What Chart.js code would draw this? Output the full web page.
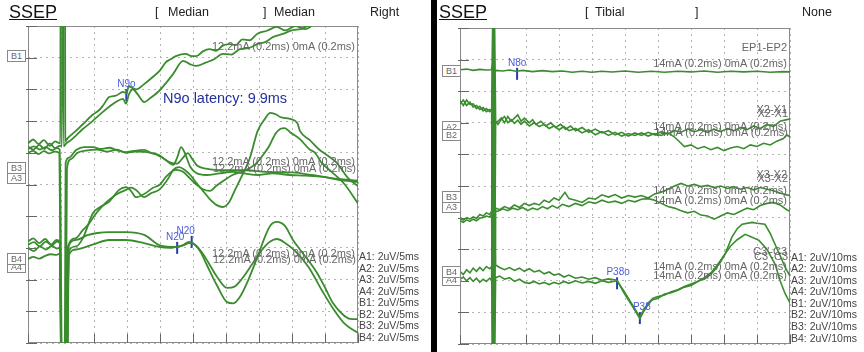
<!DOCTYPE html>
<html>
<head>
<meta charset="utf-8">
<script src="https://cdn.jsdelivr.net/npm/chart.js"></script>
<style>
body { margin: 0; background: #fff; width: 864px; height: 352px; position: relative; overflow: hidden; font-family: "Liberation Sans", Arial, sans-serif; }
.panel { position: absolute; top: 0; width: 432px; height: 352px; }
.panel canvas { position: absolute; left: 0; top: 0; }
.t { position: absolute; white-space: nowrap; line-height: 1; color: #222; }
.hd { font-size: 12.5px; top: 6px; }
.ssep { font-size: 18px; top: 3px; text-decoration: underline; color: #111; }
.st { font-size: 11px; color: #666; }
.sc { font-size: 10.5px; color: #444; }
.box { position: absolute; width: 17px; height: 10px; border: 1px solid #888; background: #fff; color: #666; font-size: 9px; line-height: 10px; text-align: center; }
.sep { position: absolute; left: 431px; top: 0; width: 6px; height: 352px; background: #000; }
</style>
</head>
<body>
<div class="panel" style="left:0">
  <canvas id="leftChart" width="432" height="352"></canvas>
  <div class="t ssep" style="left:9px">SSEP</div>
  <div class="t hd" style="left:155px">[</div>
  <div class="t hd" style="left:168px">Median</div>
  <div class="t hd" style="left:263px">]</div>
  <div class="t hd" style="left:274px">Median</div>
  <div class="t hd" style="left:370px">Right</div>
  <div class="box" style="left:7px;top:50px">B1</div>
  <div class="box" style="left:7px;top:172px">A3</div>
  <div class="box" style="left:7px;top:162px">B3</div>
  <div class="box" style="left:7px;top:261px">A4</div>
  <div class="box" style="left:7px;top:253px">B4</div>
  <div class="t st" style="right:77px;top:41px">12.2mA (0.2ms) 0mA (0.2ms)</div>
  <div class="t st" style="right:77px;top:156px">12.2mA (0.2ms) 0mA (0.2ms)</div>
  <div class="t st" style="right:76px;top:163px">12.2mA (0.2ms) 0mA (0.2ms)</div>
  <div class="t st" style="right:77px;top:248px">12.2mA (0.2ms) 0mA (0.2ms)</div>
  <div class="t st" style="right:76px;top:254px">12.2mA (0.2ms) 0mA (0.2ms)</div>
  <div class="t" style="left:163px;top:91px;font-size:14.5px;color:#22309a">N9o latency: 9.9ms</div>
  <div class="t sc" style="left:359px;top:251px">A1: 2uV/5ms</div>
  <div class="t sc" style="left:359px;top:263px">A2: 2uV/5ms</div>
  <div class="t sc" style="left:359px;top:274px">A3: 2uV/5ms</div>
  <div class="t sc" style="left:359px;top:286px">A4: 2uV/5ms</div>
  <div class="t sc" style="left:359px;top:297px">B1: 2uV/5ms</div>
  <div class="t sc" style="left:359px;top:309px">B2: 2uV/5ms</div>
  <div class="t sc" style="left:359px;top:320px">B3: 2uV/5ms</div>
  <div class="t sc" style="left:359px;top:332px">B4: 2uV/5ms</div>
</div>
<div class="panel" style="left:432px">
  <canvas id="rightChart" width="432" height="352"></canvas>
  <div class="t ssep" style="left:7px">SSEP</div>
  <div class="t hd" style="left:153px">[</div>
  <div class="t hd" style="left:163px">Tibial</div>
  <div class="t hd" style="left:263px">]</div>
  <div class="t hd" style="left:370px">None</div>
  <div class="box" style="left:10px;top:65px">B1</div>
  <div class="box" style="left:10px;top:121px">A2</div>
  <div class="box" style="left:10px;top:129px">B2</div>
  <div class="box" style="left:10px;top:201px">A3</div>
  <div class="box" style="left:10px;top:191px">B3</div>
  <div class="box" style="left:10px;top:274px">A4</div>
  <div class="box" style="left:10px;top:266px">B4</div>
  <div class="t st" style="right:77px;top:42px">EP1-EP2</div>
  <div class="t st" style="right:77px;top:58px">14mA (0.2ms) 0mA (0.2ms)</div>
  <div class="t st" style="right:77px;top:104px">X2-X1</div>
  <div class="t st" style="right:76px;top:108px">X2-X1</div>
  <div class="t st" style="right:77px;top:121px">14mA (0.2ms) 0mA (0.2ms)</div>
  <div class="t st" style="right:76px;top:127px">14mA (0.2ms) 0mA (0.2ms)</div>
  <div class="t st" style="right:77px;top:169px">X3-X2</div>
  <div class="t st" style="right:76px;top:173px">X3-X2</div>
  <div class="t st" style="right:77px;top:185px">14mA (0.2ms) 0mA (0.2ms)</div>
  <div class="t st" style="right:77px;top:195px">14mA (0.2ms) 0mA (0.2ms)</div>
  <div class="t st" style="right:77px;top:246px">C3'-C3</div>
  <div class="t st" style="right:76px;top:251px">C3'-C3</div>
  <div class="t st" style="right:77px;top:261px">14mA (0.2ms) 0mA (0.2ms)</div>
  <div class="t st" style="right:77px;top:270px">14mA (0.2ms) 0mA (0.2ms)</div>
  <div class="t sc" style="left:359px;top:252px">A1: 2uV/10ms</div>
  <div class="t sc" style="left:359px;top:263px">A2: 2uV/10ms</div>
  <div class="t sc" style="left:359px;top:275px">A3: 2uV/10ms</div>
  <div class="t sc" style="left:359px;top:286px">A4: 2uV/10ms</div>
  <div class="t sc" style="left:359px;top:298px">B1: 2uV/10ms</div>
  <div class="t sc" style="left:359px;top:309px">B2: 2uV/10ms</div>
  <div class="t sc" style="left:359px;top:321px">B3: 2uV/10ms</div>
  <div class="t sc" style="left:359px;top:333px">B4: 2uV/10ms</div>
</div>
<div class="sep"></div>

<script>
// median nerve, 5 ms/div, amplitude in grid divisions (2 uV/div)
const leftB1a = [[-5,6.3],[-4.2,6.42],[-3.4,6.28],[-2.6,6.4],[-1.7,6.22],[-0.9,6.36],[-0.2,6.3],[-0.1,6.3],[-0.05,14],[0.6,14],[0.65,6.35],[0.8,6.4],[1.2,6.5],[2.3,6.7],[3.3,6.9],[4.8,7.2],[5.8,7.35],[6.4,7.5],[7.3,7.76],[8.3,7.8],[9.4,7.92],[9.9,7.88],[10.3,8.1],[10.8,8.05],[11.4,8.0],[12.5,8.15],[13.9,8.39],[15,8.6],[15.9,8.86],[16.6,8.95],[17.4,9.05],[18.9,9.12],[19.8,9.05],[20.5,9.05],[21.5,9.2],[22.5,9.27],[23.5,9.22],[24.5,9.38],[25.5,9.43],[26.5,9.4],[27.5,9.58],[28.6,9.55],[29.7,9.75],[31.2,9.85],[32.7,9.97],[34,9.86],[35.5,10.0],[37,9.9],[38.5,10.1],[40,10.4],[42.5,10.7],[45,10.9]];
const leftB1b = [[-5,6.2],[-4.2,6.1],[-3.3,6.25],[-2.5,6.12],[-1.7,6.3],[-0.9,6.15],[-0.2,6.22],[0.15,6.22],[0.2,14],[0.35,14],[0.4,6.2],[0.8,6.3],[1.5,6.4],[2.3,6.55],[3.3,6.75],[4.5,6.95],[5.3,7.1],[6.4,7.3],[7.3,7.45],[8.3,7.6],[9.4,7.7],[9.85,7.55],[10.3,7.85],[10.9,8.0],[11.6,7.85],[12.6,7.6],[13.5,7.72],[14.85,7.95],[15.9,8.2],[17,8.49],[18.5,8.9],[19.5,8.8],[20.5,8.74],[22,8.85],[23.2,8.95],[24.5,9.12],[25.8,9.1],[27.1,9.27],[28.4,9.3],[29.7,9.43],[31,9.5],[32.1,9.65],[33.6,9.75],[35.1,9.87],[36.3,9.9],[37.3,10.0],[39,10.2],[42,10.5],[45,10.7]];
const leftB3a = [[-5,6.0],[-4.2,6.06],[-3.4,5.96],[-2.6,6.05],[-1.8,5.98],[-1,6.04],[-0.3,6.0],[0.2,-4],[0.5,-4],[0.7,5.68],[1.2,5.85],[2.3,6.09],[3.5,6.18],[4.85,6.18],[6,6.12],[7.3,6.16],[8.5,6.08],[9.85,6.02],[11,6.06],[12.6,6.09],[13.6,6.0],[14.85,5.93],[16,5.75],[17,5.62],[17.6,5.85],[18.2,6.18],[18.9,5.92],[19.6,5.55],[20.5,5.36],[22,5.3],[24,5.35],[26,5.4],[28,5.34],[30,5.3],[32,5.35],[34.7,5.3],[37,5.28],[39.7,5.24],[42,5.15],[45,5.08]];
const leftB3b = [[-5,6.12],[-4.1,6.2],[-3.2,6.1],[-2.3,6.18],[-1.4,6.08],[-0.6,6.15],[-0.2,6.1],[0.3,-4],[0.6,-4],[0.9,5.5],[1.5,5.8],[2.5,6.0],[4,6.08],[5.5,6.1],[7,6.04],[8.5,6.1],[9.85,6.0],[11.3,6.04],[12.6,6.03],[14,5.98],[15.3,5.85],[16.5,5.7],[17.6,5.66],[18.5,5.85],[19.2,5.99],[19.9,5.8],[20.6,5.6],[22,5.5],[25,5.45],[28,5.45],[31,5.4],[35,5.38],[38,5.3],[41,5.2],[45,5.12]];
const leftA3a = [[-5,3.2],[-4.2,3.3],[-3.3,3.15],[-2.4,3.28],[-1.5,3.1],[-0.7,3.25],[-0.2,3.2],[0.2,-4],[0.6,-4],[1.0,3.0],[2.2,3.3],[3.3,3.56],[4.2,3.75],[5,4.0],[6.2,4.3],[7.27,4.51],[8.5,4.7],[9.85,4.83],[10.6,4.9],[11.36,4.83],[12.6,4.6],[13.6,4.72],[14.85,4.83],[15.6,5.0],[16.4,5.24],[17,5.46],[17.9,5.55],[18.8,5.45],[19.6,5.3],[20.5,5.05],[21.5,4.8],[22.5,4.55],[23.6,4.35],[24.5,4.29],[25.5,4.45],[26.3,4.8],[27.1,5.14],[28.6,5.83],[29.8,6.69],[30.9,7.07],[31.7,7.26],[32.7,7.2],[33.2,7.13],[34.7,7.07],[35.8,6.94],[36.2,6.69],[37.7,6.4],[39.2,6.09],[40.5,5.9],[41.8,5.68],[43.5,5.2],[45,4.95]];
const leftA3b = [[-5,3.0],[-4.1,2.9],[-3.2,3.05],[-2.3,2.95],[-1.4,3.06],[-0.6,2.98],[-0.2,3.0],[0.3,-4],[0.7,-4],[1.2,2.9],[2.3,3.05],[3.3,3.3],[4.85,4.1],[6,4.3],[7.27,4.45],[8.8,4.83],[9.85,4.92],[10.6,4.8],[11.36,4.6],[12.6,4.7],[13.9,4.89],[15,5.0],[15.9,5.24],[17.4,5.46],[18.5,5.4],[19.5,5.2],[20.5,5.0],[21.5,4.85],[22.6,4.8],[23.5,4.95],[24.5,5.1],[26,5.3],[28,5.45],[29.5,5.65],[30.5,5.9],[31.5,6.2],[32.5,6.6],[33.2,6.75],[33.9,6.78],[34.7,6.65],[36.2,6.43],[37.7,6.1],[38.5,6.0],[39.5,5.68],[41,5.4],[43,5.0],[45,4.4]];
const leftB4a = [[-5,2.65],[-4.2,2.72],[-3.3,2.66],[-2.4,2.75],[-1.5,2.8],[-0.7,2.78],[-0.2,2.82],[0.2,-4],[0.8,-4],[1.2,2.78],[2.3,2.95],[3.3,3.0],[5,3.12],[7.27,3.25],[9.85,3.25],[12.6,3.15],[14.85,3.03],[16.5,3.0],[17.4,3.03],[18.5,3.08],[19.4,3.15],[20.3,3.1],[21.2,2.85],[22.1,2.46],[23.6,1.83],[25.15,1.29],[26.1,1.25],[27.1,1.45],[28.4,2.0],[29.7,2.68],[30.9,3.35],[31.7,3.7],[32.7,3.82],[33.9,3.7],[35.15,3.25],[36.2,2.95],[37.5,2.6],[38.8,2.21],[40,1.75],[41.2,1.26],[42.7,0.9],[43.8,0.76],[45,0.75]];
const leftB4b = [[-5,3.1],[-4.1,3.18],[-3.2,3.05],[-2.3,3.2],[-1.4,3.08],[-0.6,3.2],[-0.2,3.15],[0.3,-4],[0.7,-4],[1.2,3.09],[2.3,3.25],[4,3.4],[5.5,3.47],[7.27,3.5],[9.85,3.5],[12.6,3.41],[14.85,3.09],[16,3.04],[17.4,3.03],[18.5,3.09],[19.4,3.19],[20.3,3.1],[21.2,2.9],[22.3,2.55],[23.6,2.1],[25.15,1.74],[26.3,1.78],[27.5,2.05],[29,2.5],[30.5,2.95],[31.7,3.2],[32.7,3.28],[34,3.15],[35.5,2.9],[37.5,2.4],[39.7,1.6],[41.5,1.0],[43,0.6],[45,0.32]];
const leftMarks = [[9.9,7.82],[17.6,3.0],[19.8,3.19]];
const leftMarkNames = ['N9o', 'N20', 'N20'];

// tibial nerve, 10 ms/div
const rightB1 = [[-10,8.68],[-8,8.7],[-6,8.66],[-4,8.69],[-2,8.67],[-0.5,8.68],[0,8.9],[0.4,8.6],[1,8.66],[3,8.64],[5,8.67],[7,8.63],[9,8.66],[12,8.62],[15,8.65],[18,8.62],[21,8.64],[24,8.6],[27,8.63],[30,8.6],[33,8.63],[36,8.61],[40,8.64],[44,8.6],[48,8.63],[52,8.6],[56,8.63],[60,8.61],[64,8.64],[68,8.6],[72,8.63],[76,8.61],[80,8.63],[84,8.6],[88,8.62],[90,8.61]];
const rightB2 = [[-10,7.7],[-9,7.55],[-8,7.72],[-7,7.58],[-6,7.6],[-5,7.45],[-4,7.52],[-3,7.38],[-2,7.45],[-1,7.35],[-0.4,7.4],[0,11],[0.3,-2],[0.8,7.0],[1.5,7.05],[2.5,7.15],[3.5,7.0],[4.5,7.2],[5.5,7.05],[6.5,7.15],[7.5,7.25],[8.5,7.05],[9.5,7.15],[11,7.0],[12,7.1],[13,6.95],[14.5,7.05],[16,6.9],[17.5,7.0],[19,6.85],[20.5,6.95],[22,6.8],[23.5,6.9],[25,6.75],[27,6.85],[29,6.7],[31,6.8],[33,6.68],[35,6.75],[37,6.62],[39,6.7],[41,6.58],[43,6.68],[45,6.6],[47,6.7],[49,6.62],[51,6.72],[53,6.65],[55,6.75],[57,6.7],[59,6.8],[61,6.72],[63,6.78],[65,6.7],[67,6.8],[69,6.72],[71,6.82],[73,6.75],[75,6.85],[77,6.78],[79,6.9],[81,6.82],[83,6.95],[85,6.88],[87,7.05],[89,7.1],[90,7.12]];
const rightA2 = [[-10,7.6],[-9,7.72],[-8,7.55],[-7,7.65],[-6,7.5],[-5,7.55],[-4,7.42],[-3,7.48],[-2,7.35],[-1,7.42],[-0.4,7.38],[0.1,-2],[0.4,11],[0.8,7.05],[1.5,6.95],[2.5,7.1],[3.5,7.2],[4.5,7.0],[5.5,7.1],[6.5,6.98],[7.5,7.08],[8.5,6.95],[9.5,7.05],[11,6.9],[12.5,7.0],[14,6.88],[15.5,6.95],[17,6.82],[18.5,6.9],[20,6.78],[21.5,6.88],[23,6.75],[25,6.82],[27,6.68],[29,6.78],[31,6.62],[33,6.72],[35,6.6],[37,6.7],[39,6.58],[41,6.66],[43,6.6],[45,6.68],[47,6.58],[49,6.66],[51,6.6],[53,6.68],[55,6.55],[56.5,6.4],[58,6.25],[60,6.3],[62,6.18],[64,6.25],[66,6.15],[68,6.22],[70,6.12],[72,6.2],[74,6.25],[76,6.18],[78,6.3],[80,6.25],[82,6.35],[84,6.3],[86,6.42],[88,6.5],[89,6.62],[90,6.55]];
const rightB3 = [[-10,3.98],[-9,3.92],[-8,4.0],[-7,3.95],[-6,4.02],[-5,3.98],[-4,4.1],[-3,4.05],[-2,4.15],[-1,4.1],[-0.4,4.2],[0,11],[0.3,-1],[0.8,4.3],[2,4.25],[3.5,4.35],[5,4.28],[6.5,4.4],[8,4.32],[9.5,4.45],[11,4.38],[12.5,4.45],[14,4.4],[15.5,4.55],[17,4.48],[18.5,4.62],[20,4.55],[21.8,4.8],[23,4.6],[25,4.55],[27,4.48],[29,4.62],[31,4.58],[33,4.72],[35,4.65],[37,4.73],[39,4.62],[41,4.7],[43,4.65],[45,4.7],[47,4.62],[49,4.75],[51,4.8],[53,4.9],[55,5.0],[57,5.08],[59,5.0],[61,5.05],[63,4.98],[65,5.02],[67,4.95],[69,5.0],[71,4.92],[73,4.98],[75,4.9],[77,4.95],[79,4.88],[81,4.95],[83,4.9],[85,4.85],[87,4.78],[89,4.72],[90,4.7]];
const rightA3 = [[-10,3.9],[-9,3.85],[-8,3.93],[-7,3.88],[-6,3.95],[-5,3.9],[-4,3.98],[-3,4.0],[-2,4.05],[-1,4.02],[-0.4,4.1],[0,-3],[0.3,4.2],[1.5,4.2],[3,4.28],[4.5,4.22],[6,4.3],[7.5,4.25],[9,4.32],[10.5,4.22],[12,4.3],[13.5,4.25],[15,4.35],[16.5,4.28],[18,4.38],[19.5,4.3],[21,4.42],[23,4.35],[25,4.45],[27,4.38],[29,4.5],[31,4.45],[33,4.55],[35,4.48],[37,4.52],[39,4.45],[41,4.55],[43,4.5],[45,4.58],[47,4.6],[49,4.55],[51,4.45],[53,4.35],[55,4.3],[57,4.22],[59,4.15],[61,4.2],[63,4.08],[65,4.05],[67,3.95],[69,4.05],[71,4.15],[73,4.1],[75,4.2],[77,4.3],[79,4.25],[81,4.38],[83,4.45],[85,4.48],[87,4.4],[89,4.25],[90,4.2]];
const rightB4 = [[-10,2.3],[-9,2.2],[-8,2.35],[-7,2.25],[-6,2.4],[-5,2.3],[-4,2.42],[-3,2.32],[-2,2.45],[-1,2.38],[-0.4,2.45],[0,-3],[0.3,10],[0.8,2.5],[2,2.42],[3.5,2.35],[5,2.42],[6.5,2.33],[8,2.4],[9.5,2.3],[11,2.38],[12.5,2.28],[14,2.33],[15.5,2.22],[17,2.28],[18.5,2.18],[20,2.22],[21.5,2.12],[23,2.18],[25,2.08],[27,2.12],[29,2.05],[31,2.1],[33,2.02],[35,2.06],[37.6,2.02],[39.5,1.65],[41,1.4],[42.5,1.15],[44.5,0.8],[45.5,1.0],[47,1.25],[48.2,1.39],[50,1.45],[52,1.58],[54,1.62],[56,1.7],[58,1.8],[60,1.85],[62.4,2.0],[64,2.05],[66,2.2],[67.3,2.36],[69,2.6],[70.3,2.84],[72.4,3.38],[74,3.65],[75.5,3.79],[78.5,3.85],[80,3.82],[82.4,3.79],[84,3.5],[85.5,3.15],[87,2.8],[88.5,2.43],[90,2.15]];
const rightA4 = [[-10,2.05],[-9,2.12],[-8,2.0],[-7,2.1],[-6,1.98],[-5,2.08],[-4,1.95],[-3,2.05],[-2,1.98],[-1,2.08],[-0.4,2.02],[0,10],[0.3,-2],[0.8,2.1],[2,2.15],[3.5,2.05],[5,2.1],[6.5,1.98],[8,2.05],[9.5,1.95],[11,1.92],[12.5,1.98],[14,1.9],[15.5,1.95],[17,1.88],[18.5,1.95],[20,1.9],[21.5,1.98],[23,1.92],[25,2.0],[27,1.93],[29,1.98],[31,1.92],[33,2.0],[35,1.95],[37.6,2.0],[39.5,1.7],[41,1.45],[42.5,1.2],[44.5,0.85],[45.5,1.05],[47,1.3],[48.5,1.45],[50,1.5],[52,1.55],[54,1.65],[56,1.72],[58,1.82],[60,1.9],[62,1.98],[64,2.1],[66,2.25],[68,2.5],[70,2.8],[72,3.1],[74,3.3],[76.4,3.47],[78,3.4],[80.6,3.28],[83,3.0],[85.5,2.52],[87,2.0],[88.5,1.6],[90,1.3]];
const rightMarks = [[7.3,8.55],[37.6,1.92],[44.5,0.82]];
const rightMarkNames = ['N8o', 'P38o', 'P38'];

const leftMarkDx = [0, -2, -6];
const rightMarkDx = [0, 1, 2];

const waveColor = 'rgb(58,140,46)';

const frame = {
    id: 'frame',
    beforeDatasetsDraw(chart) {
        const {ctx, chartArea: a, scales: {x, y}} = chart;
        ctx.save();
        ctx.strokeStyle = '#8a8a8a';
        ctx.lineWidth = 1;
        ctx.strokeRect(a.left + 0.5, a.top + 0.5, a.width - 1, a.height - 1);
        ctx.strokeStyle = '#666';
        ctx.beginPath();
        y.ticks.forEach(t => {
            const py = Math.round(y.getPixelForValue(t.value)) + 0.5;
            ctx.moveTo(a.left - 2, py);
            ctx.lineTo(a.left + 9, py);
        });
        x.ticks.forEach(t => {
            const px = Math.round(x.getPixelForValue(t.value)) + 0.5;
            ctx.moveTo(px, a.bottom);
            ctx.lineTo(px, a.bottom - 9);
        });
        ctx.stroke();
        ctx.restore();
    }
};

const markLabels = {
    id: 'markLabels',
    afterDatasetsDraw(chart) {
        const ctx = chart.ctx;
        const last = chart.data.datasets.length - 1;
        const ds = chart.data.datasets[last];
        const meta = chart.getDatasetMeta(last);
        ctx.save();
        ctx.font = '10px "Liberation Sans", Arial, sans-serif';
        ctx.fillStyle = '#4b5cd8';
        ctx.textAlign = 'center';
        meta.data.forEach((pt, i) => {
            ctx.fillText(ds.names[i], pt.x + ds.dx[i], pt.y - 8);
        });
        ctx.restore();
    }
};

function drawPanel(id, traces, marks, names, dx, xMin, xMax, xStep, padTop, padBottom, smooth) {
    const datasets = traces.map(tr => ({
        data: tr.map(([x, y]) => ({x, y})),
        borderColor: waveColor,
        borderWidth: smooth ? 1.8 : 1.6,
        pointRadius: 0,
        cubicInterpolationMode: smooth ? 'monotone' : 'default',
        tension: 0
    }));
    datasets.push({
        data: marks.map(([x, y]) => ({x, y})),
        showLine: false,
        pointStyle: 'line',
        rotation: 90,
        pointRadius: 6,
        pointBorderColor: '#2a3aae',
        pointBorderWidth: 2,
        borderColor: '#2a3aae',
        names: names,
        dx: dx
    });
    const gridOpts = {color: '#b4b4b4', lineWidth: 1, drawTicks: false, borderDash: [2, 4]};
    new Chart(document.getElementById(id), {
        type: 'line',
        data: {datasets},
        options: {
            responsive: false,
            animation: false,
            devicePixelRatio: 1,
            events: [],
            layout: {padding: {left: 28, right: 74, top: padTop, bottom: padBottom}},
            plugins: {legend: {display: false}, tooltip: {enabled: false}},
            scales: {
                x: {
                    type: 'linear', min: xMin, max: xMax,
                    ticks: {display: false, stepSize: xStep},
                    grid: gridOpts,
                    border: {display: false, dash: [2, 4]}
                },
                y: {
                    min: 0, max: 10,
                    ticks: {display: false, stepSize: 1},
                    grid: gridOpts,
                    border: {display: false, dash: [2, 4]}
                }
            }
        },
        plugins: [frame, markLabels]
    });
}

drawPanel('leftChart',
    [leftB1a, leftB1b, leftB3a, leftB3b, leftA3a, leftA3b, leftB4a, leftB4b],
    leftMarks, leftMarkNames, leftMarkDx, -5, 45, 5, 26, 9, true);
drawPanel('rightChart',
    [rightB1, rightB2, rightA2, rightB3, rightA3, rightB4, rightA4],
    rightMarks, rightMarkNames, rightMarkDx, -10, 90, 10, 28, 8, false);
</script>
</body>
</html>
